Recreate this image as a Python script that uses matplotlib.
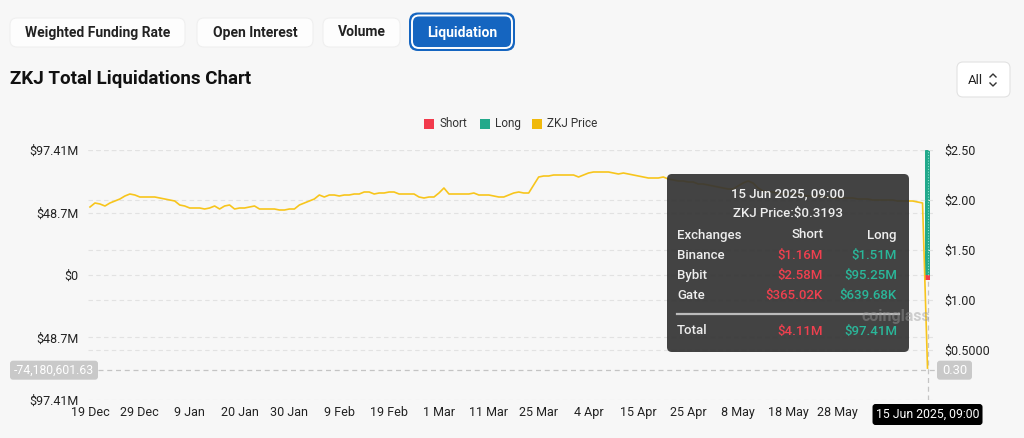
# ZKJ total liquidations chart (coinglass style)
import numpy as np
import matplotlib
matplotlib.use('Agg')
import matplotlib.pyplot as plt
from matplotlib.patches import FancyBboxPatch, Rectangle
from matplotlib.lines import Line2D
from matplotlib.transforms import Affine2D
from matplotlib.ticker import FixedLocator, FixedFormatter

plt.rcParams['font.family'] = ['Roboto', 'DejaVu Sans']

W, H = 1024, 438

# ZKJ price, 19 Dec 2024 -> 15 Jun 2025 09:00
price = [
  1.93, 1.97, 1.96, 1.94, 1.97, 1.99, 2.01, 2.04, 2.06, 2.05,
  2.03, 2.03, 2.03, 2.03, 2.02, 2.01, 2.00, 1.99, 1.95, 1.94,
  1.92, 1.92, 1.92, 1.91, 1.92, 1.94, 1.91, 1.94, 1.95, 1.91,
  1.92, 1.92, 1.93, 1.94, 1.91, 1.91, 1.91, 1.91, 1.90, 1.90,
  1.91, 1.91, 1.95, 1.97, 1.99, 2.01, 2.05, 2.03, 2.05, 2.05,
  2.04, 2.05, 2.05, 2.06, 2.06, 2.08, 2.08, 2.06, 2.07, 2.07,
  2.08, 2.08, 2.06, 2.06, 2.06, 2.06, 2.03, 2.02, 2.03, 2.03,
  2.07, 2.12, 2.06, 2.06, 2.06, 2.06, 2.06, 2.07, 2.05, 2.05,
  2.05, 2.04, 2.03, 2.03, 2.05, 2.07, 2.08, 2.07, 2.07, 2.15,
  2.23, 2.24, 2.24, 2.25, 2.25, 2.25, 2.25, 2.25, 2.23, 2.25,
  2.27, 2.28, 2.28, 2.28, 2.28, 2.27, 2.26, 2.27, 2.26, 2.25,
  2.24, 2.23, 2.22, 2.22, 2.22, 2.23, 2.21, 2.20, 2.19, 2.19,
  2.18, 2.18, 2.16, 2.16, 2.15, 2.14, 2.13, 2.12, 2.11, 2.11,
  2.14, 2.17, 2.19, 2.17, 2.12, 2.09, 2.08, 2.08, 2.07, 2.06,
  2.06, 2.06, 2.05, 2.05, 2.04, 2.04, 2.04, 2.03, 2.03, 2.02,
  2.02, 2.02, 2.02, 2.02, 2.01, 2.01, 2.01, 2.00, 2.00, 2.00,
  2.00, 2.00, 1.99, 1.99, 1.99, 1.99, 1.98, 1.97, 0.3193,
]

tick_labels = ['19 Dec', '29 Dec', '9 Jan', '20 Jan', '30 Jan', '9 Feb', '19 Feb', '1 Mar',
               '11 Mar', '25 Mar', '4 Apr', '15 Apr', '25 Apr', '8 May', '18 May', '28 May']
tick_step = 10
hover_label = '15 Jun 2025, 09:00'

# liquidations on the hovered candle
long_total = 97.41e6
short_total = 4.11e6
exchanges = ['Binance', 'Bybit', 'Gate']
short_by_ex = [1.16e6, 2.58e6, 365.02e3]
long_by_ex = [1.51e6, 95.25e6, 639.68e3]

left_ticks = [-97.41e6, -48.7e6, 0, 48.7e6, 97.41e6]
right_ticks = [0.5, 1.0, 1.5, 2.0, 2.5]
right_tick_labels = ['$0.5000', '$1.00', '$1.50', '$2.00', '$2.50']
cross_value = -74180601.63

RED = '#f23a4c'
GREEN = '#22a98b'
GOLD = '#f0b90b'
LINE = '#f7c51c'
BG = '#f7f7f7'
GRID = '#e2e2e2'


def money(v):
  if abs(v) >= 1e6:
    return '$%.2fM' % (v / 1e6)
  return '$%.2fK' % (v / 1e3)


def left_fmt(v):
  if v == 0:
    return '$0'
  return '$%gM' % round(abs(v) / 1e6, 2)


fig = plt.figure(figsize=(W / 100, H / 100), dpi=100, facecolor=BG)
# pixel coords with origin at top left
pt = Affine2D().scale(1, -1).translate(0, H)

def box(x, y, w, h, r, **kw):
  p = FancyBboxPatch((x, y), w, h, boxstyle='round,pad=0,rounding_size=%g' % r,
                     transform=pt, **kw)
  fig.add_artist(p)
  return p

def txt(x, y, s, **kw):
  kw.setdefault('va', 'center')
  return fig.text(x, y, s, transform=pt, **kw)

# --- top buttons
buttons = [('Weighted Funding Rate', 10, 175), ('Open Interest', 197, 116), ('Volume', 323, 77)]
for name, x0, w in buttons:
  box(x0, 18, w, 29, 7, facecolor='#fdfdfd', edgecolor='#efefef', lw=0.8)
  txt(x0 + w / 2, 32.5, name, ha='center', fontsize=10, weight='bold', color='#222222')
box(409, 12.5, 106, 38.5, 9, facecolor='#1565c0', edgecolor='none')
box(412, 15.5, 100, 32.5, 7, facecolor='#1565c0', edgecolor='white', lw=1.4)
txt(462, 32.5, 'Liquidation', ha='center', fontsize=10, weight='bold', color='white')

txt(10, 79, 'ZKJ Total Liquidations Chart', fontsize=13.5, weight='bold', color='#111111')

# dropdown
box(957, 62, 53, 35, 6, facecolor='white', edgecolor='#e2e2e2', lw=0.8)
txt(968, 80, 'All', fontsize=9.5, color='#222222')
for ys in ([77, 74, 77], [83, 86, 83]):
  fig.add_artist(Line2D([990, 993, 996], ys, transform=pt, color='#333333', lw=1))

# legend
for (name, x0, c) in [('Short', 424, RED), ('Long', 480, GREEN), ('ZKJ Price', 532, GOLD)]:
  fig.add_artist(Rectangle((x0, 119), 10, 10, transform=pt, facecolor=c, edgecolor='none'))
  txt(x0 + 15, 123.5, name, fontsize=8.5, color='#333333')

# --- chart
n = len(price)
idx = np.arange(n)
last = n - 1
ax = fig.add_axes([88 / W, 1 - 400 / H, (933 - 88) / W, 250 / H])
ax.set_facecolor('none')
ax.set_xlim(-0.4, 169.1)
ax.set_ylim(-97.41e6, 97.41e6)
ax2 = ax.twinx()
ax2.set_ylim(0, 2.5)

for a in (ax, ax2):
  for s in a.spines.values():
    s.set_visible(False)
  a.tick_params(length=0, labelsize=9, labelcolor='#222222')

for v in left_ticks:
  ax.axhline(v, color=GRID, lw=0.8, ls=(0, (4, 3)), zorder=0)
for v in right_ticks:
  ax2.axhline(v, color=GRID, lw=0.8, ls=(0, (4, 3)), zorder=0)

ax.yaxis.set_major_locator(FixedLocator(left_ticks))
ax.yaxis.set_major_formatter(FixedFormatter([left_fmt(v) for v in left_ticks]))
ax.tick_params(axis='y', pad=7)
ax2.yaxis.set_major_locator(FixedLocator(right_ticks))
ax2.yaxis.set_major_formatter(FixedFormatter(right_tick_labels))
ax2.tick_params(axis='y', pad=8)

xt = np.arange(len(tick_labels)) * tick_step
ax.set_xticks(xt)
ax.set_xticklabels(tick_labels)
ax.tick_params(axis='x', pad=4.5)

# crosshair (vertical)
ax.axvline(last, color='#c4c4c4', lw=0.9, ls=(0, (4, 3)), zorder=1)

ax.bar(last, long_total, width=1.0, color=GREEN, zorder=2)
ax.bar(last, -short_total, width=1.0, color=RED, zorder=2)
ax.plot([last, last], [0, long_total], color='#8fe0cc', lw=0.8, ls=(0, (1, 1.5)), zorder=3)

ax2.plot(idx, price, color=LINE, lw=1.2, zorder=3)

# crosshair (horizontal) + axis labels
fig.canvas.draw()
ydisp = ax.transData.transform((0, cross_value))[1]
cross_price = ax2.transData.inverted().transform((0, ydisp))[1]
ypx = H - ydisp
xpx = ax.transData.transform((last, 0))[0]
fig.add_artist(Line2D([98, 937], [ypx, ypx], transform=pt, color='#c4c4c4', lw=0.9,
                      ls=(0, (4, 3))))
box(10, ypx - 9.5, 88, 19, 3, facecolor='#c9c9c9', edgecolor='none')
txt(54, ypx, '{:,.2f}'.format(cross_value), ha='center', fontsize=8.8, color='white')
box(937, ypx - 9.5, 35, 19, 3, facecolor='#c9c9c9', edgecolor='none')
txt(954.5, ypx, '%.2f' % cross_price, ha='center', fontsize=9.3, color='white')
box(xpx - 55, 404, 110, 21, 3, facecolor='black', edgecolor='none')
txt(xpx, 414.5, hover_label, ha='center', fontsize=8.8, color='white')

# tooltip
box(667, 174, 242, 178, 5, facecolor='#333333', edgecolor='none', alpha=0.92)
tc = '#eeeeee'
fs = 9.5
fw = 'medium'
txt(788, 194, hover_label, ha='center', fontsize=fs, color=tc, weight=fw)
txt(788, 214, 'ZKJ Price:$%.4f' % price[-1], ha='center', fontsize=fs, color=tc, weight=fw)
txt(677, 235, 'Exchanges', fontsize=fs, color=tc, weight=fw)
txt(823, 235, 'Short', ha='right', fontsize=fs, color=tc, weight=fw)
txt(897, 235, 'Long', ha='right', fontsize=fs, color=tc, weight=fw)
for i, ex in enumerate(exchanges):
  yy = 255.5 + i * 20.2
  txt(677, yy, ex, fontsize=fs, color=tc, weight=fw)
  txt(823, yy, money(short_by_ex[i]), ha='right', fontsize=fs, color='#f0404f', weight=fw)
  txt(897, yy, money(long_by_ex[i]), ha='right', fontsize=fs, color='#2ab79a', weight=fw)
fig.add_artist(Line2D([677, 899], [313.5, 313.5], transform=pt, color='#bbbbbb', lw=1.6))
txt(677, 331, 'Total', fontsize=fs, color=tc, weight=fw)
txt(823, 331, money(short_total), ha='right', fontsize=fs, color='#f0404f', weight=fw)
txt(897, 331, money(long_total), ha='right', fontsize=fs, color='#2ab79a', weight=fw)

# watermark
txt(862, 317, 'coinglass', fontsize=11.5, weight='bold', color='#9a9a9a', alpha=0.45)

fig.savefig('out.png', dpi=100, facecolor=BG)
